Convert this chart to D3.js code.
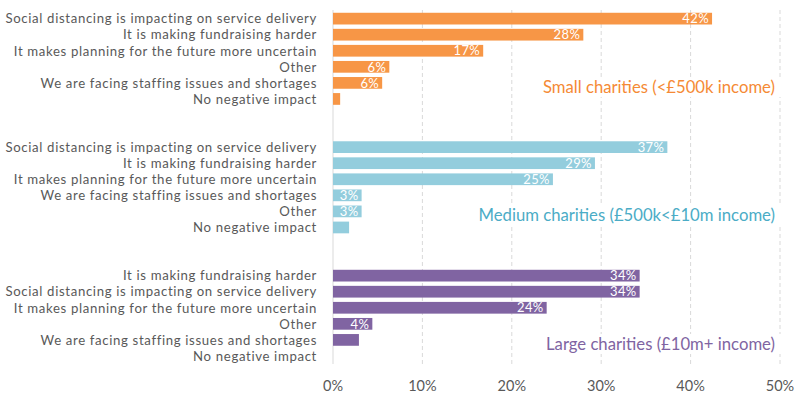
<!DOCTYPE html>
<html>
<head>
<meta charset="utf-8">
<script src="https://cdn.jsdelivr.net/npm/d3@7"></script>
<style>
  body { margin: 0; background: #fff; }
  text { font-family: Lato, "Open Sans", sans-serif; }
</style>
</head>
<body>
<script>
// data (percent of charities)
const smallCats = ['Social distancing is impacting on service delivery', 'It is making fundraising harder',
  'It makes planning for the future more uncertain', 'Other', 'We are facing staffing issues and shortages', 'No negative impact'];
const smallVals = [42.4, 28.0, 16.8, 6.3, 5.5, 0.8];

const mediumCats = ['Social distancing is impacting on service delivery', 'It is making fundraising harder',
  'It makes planning for the future more uncertain', 'We are facing staffing issues and shortages', 'Other', 'No negative impact'];
const mediumVals = [37.4, 29.3, 24.6, 3.2, 3.2, 1.8];

const largeCats = ['It is making fundraising harder', 'Social distancing is impacting on service delivery',
  'It makes planning for the future more uncertain', 'Other', 'We are facing staffing issues and shortages', 'No negative impact'];
const largeVals = [34.3, 34.3, 23.9, 4.4, 2.9, 0];

const groupNames = ['Small charities (<£500k income)', 'Medium charities (£500k<£10m income)', 'Large charities (£10m+ income)'];
const groupColors = ['#f79646', '#93cddd', '#8064a2'];
const titleColors = ['#f58a35', '#4bacc6', '#8064a2'];
const xTicks = [0, 10, 20, 30, 40, 50];

const width = 800, height = 399;
const x0 = 333, x1 = 780;

// one row per bar, with two blank rows between groups
const groups = [[smallCats, smallVals], [mediumCats, mediumVals], [largeCats, largeVals]];
const rows = [];
groups.forEach(([cats, vals], g) => {
  cats.forEach((c, i) => rows.push({ key: g + '-' + i, cat: c, val: vals[i], g }));
  if (g < 2) { rows.push({ key: 'gap' + g + 'a' }); rows.push({ key: 'gap' + g + 'b' }); }
});

const svg = d3.select('body').append('svg')
  .attr('width', width)
  .attr('height', height);

const x = d3.scaleLinear().domain([0, 50]).range([x0, x1]);
const y = d3.scaleBand()
  .domain(rows.map(d => d.key))
  .range([10.6, 364])
  .paddingInner(0.27)
  .paddingOuter(0.135);

// grid lines
svg.append('g')
  .selectAll('line')
  .data(xTicks.slice(1))
  .join('line')
  .attr('x1', d => x(d)).attr('x2', d => x(d))
  .attr('y1', 10).attr('y2', 364)
  .attr('stroke', '#d9d9d9')
  .attr('stroke-dasharray', '4,3');

svg.append('line')
  .attr('x1', x(0)).attr('x2', x(0))
  .attr('y1', 10).attr('y2', 364)
  .attr('stroke', '#d9d9d9');

const bars = rows.filter(d => d.cat);

svg.append('g')
  .selectAll('rect')
  .data(bars)
  .join('rect')
  .attr('x', x(0))
  .attr('y', d => y(d.key))
  .attr('width', d => x(d.val) - x(0))
  .attr('height', y.bandwidth())
  .attr('fill', d => groupColors[d.g]);

// value labels inside the bar ends
svg.append('g')
  .selectAll('text')
  .data(bars.filter(d => d.val >= 3))
  .join('text')
  .attr('x', d => x(d.val) - 3)
  .attr('y', d => y(d.key) + y.bandwidth() / 2)
  .attr('dy', '0.36em')
  .attr('text-anchor', 'end')
  .attr('fill', '#fff')
  .attr('font-size', 13)
  .attr('letter-spacing', 0.4)
  .text(d => Math.round(d.val) + '%');

// category labels
svg.append('g')
  .selectAll('text')
  .data(bars)
  .join('text')
  .attr('x', x(0) - 16)
  .attr('y', d => y(d.key) + y.bandwidth() / 2)
  .attr('dy', '0.36em')
  .attr('text-anchor', 'end')
  .attr('fill', '#595959')
  .attr('font-size', 13.2)
  .attr('letter-spacing', 0.65)
  .text(d => d.cat);

// group titles with a white box over the grid
groupNames.forEach((name, g) => {
  const last = rows.filter(d => d.g === g && d.cat).pop();
  const tg = svg.append('g');
  const t = tg.append('text')
    .attr('x', 775)
    .attr('y', y(last.key) + y.bandwidth() / 2 - 12)
    .attr('dy', '0.36em')
    .attr('text-anchor', 'end')
    .attr('fill', titleColors[g])
    .attr('font-size', 16.7)
    .text(name);
  const b = t.node().getBBox();
  tg.insert('rect', 'text')
    .attr('x', b.x - 2).attr('y', b.y)
    .attr('width', b.width + 8).attr('height', b.height)
    .attr('fill', '#fff');
});

// x axis labels
svg.append('g')
  .selectAll('text')
  .data(xTicks)
  .join('text')
  .attr('x', d => x(d))
  .attr('y', 386)
  .attr('dy', '0.36em')
  .attr('text-anchor', 'middle')
  .attr('fill', '#595959')
  .attr('font-size', 14.5)
  .text(d => d + '%');
</script>
</body>
</html>
